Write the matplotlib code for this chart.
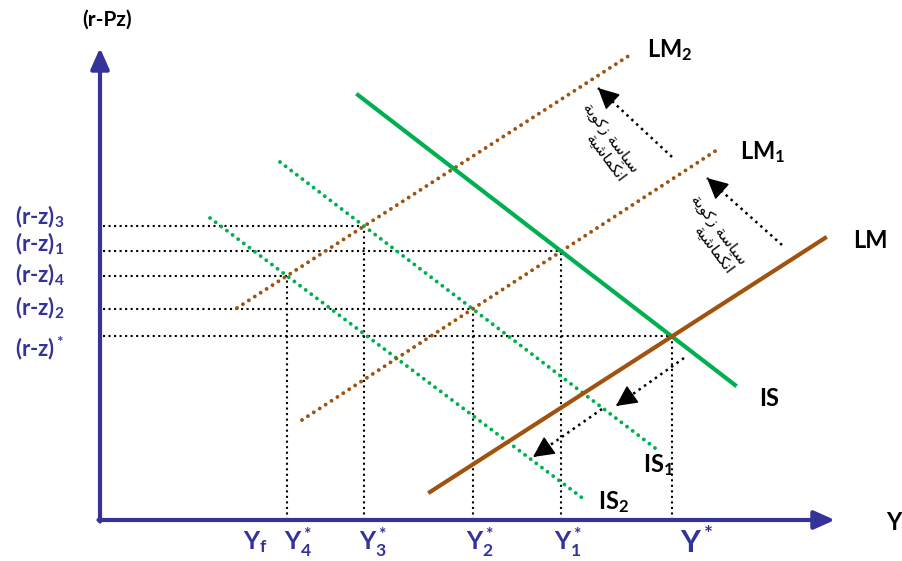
import numpy as np
import matplotlib
matplotlib.use("Agg")
import matplotlib.pyplot as plt

plt.rcParams['font.family'] = ['Lato', 'DejaVu Sans']
plt.rcParams['font.weight'] = 'bold'
plt.rcParams['mathtext.fontset'] = 'custom'
plt.rcParams['mathtext.rm'] = 'Lato:bold'
plt.rcParams['mathtext.it'] = 'Lato:bold'
plt.rcParams['mathtext.bf'] = 'Lato:bold'
plt.rcParams['mathtext.default'] = 'rm'

BLUE = '#333399'
GREEN = '#00B050'
BROWN = '#A0520F'

# curve end points (x0, y0, x1, y1), origin at the axes corner
IS = [258, 425, 635, 135]
IS1 = [180, 358, 555, 72]
IS2 = [110, 302, 485, 20]
LM = [330, 28, 725, 282]
LM1 = [202, 100, 620, 372]
LM2 = [137, 212, 530, 465]

# equilibria marked on the axes: (IS curve, LM curve)
equilibria = [(IS, LM), (IS, LM1), (IS1, LM1), (IS1, LM2), (IS2, LM2)]

# policy arrows (tail x, tail y, head x, head y)
arrows = [
    [572, 363, 498, 432],
    [682, 275, 607, 342],
    [584, 162, 516, 114],
    [502, 111, 433, 63],
]

y_labels = ['(r-z)$^*$', '(r-z)$_1$', '(r-z)$_2$', '(r-z)$_3$', '(r-z)$_4$']
y_label_pos = [172, 276, 212, 303, 245]
x_labels = ['Y$^*$', 'Y$^*_1$', 'Y$^*_2$', 'Y$^*_3$', 'Y$^*_4$', 'Y$_f$']
x_label_pos = [597, 468, 380, 273, 198, 155]

# arabic, written in presentation forms in visual order
policy_text = ('\ufe94\ufef3\ufeee\ufedb\ufeaf \ufe94\ufeb3\ufe8e\ufef4\ufeb3\n'
               '\ufe94\ufef4\ufeb7\ufe8e\ufee4\ufedc\ufee7\ufe8d')


def intersect(a, b):
    ma = (a[3] - a[1]) / (a[2] - a[0])
    mb = (b[3] - b[1]) / (b[2] - b[0])
    x = (b[1] - a[1] + ma * a[0] - mb * b[0]) / (ma - mb)
    return x, a[1] + ma * (x - a[0])


fig = plt.figure(figsize=(9.03, 5.61), dpi=100)
ax = fig.add_axes([0, 0, 1, 1])
ax.set_xlim(-100, 803)
ax.set_ylim(-41, 520)
ax.axis('off')

# guide lines to the axes
for s, d in equilibria:
    xe, ye = intersect(s, d)
    ax.plot([3, xe], [ye, ye], color='black', lw=1.5, ls=':', zorder=1)
    ax.plot([xe, xe], [0, ye], color='black', lw=1.5, ls=':', zorder=1)

dots = (0, (0.01, 1.8))
for c in [IS1, IS2]:
    ax.plot([c[0], c[2]], [c[1], c[3]], color=GREEN, lw=2.8, ls=dots,
            dash_capstyle='round', zorder=2)
for c in [LM1, LM2]:
    ax.plot([c[0], c[2]], [c[1], c[3]], color=BROWN, lw=2.8, ls=dots,
            dash_capstyle='round', zorder=2)
ax.plot([IS[0], IS[2]], [IS[1], IS[3]], color=GREEN, lw=3, zorder=3)
ax.plot([LM[0], LM[2]], [LM[1], LM[3]], color=BROWN, lw=3, zorder=3)

for a in arrows:
    ax.plot([a[0], a[2]], [a[1], a[3]], color='black', lw=1.8, ls=':', zorder=4)
    d = np.array([a[2] - a[0], a[3] - a[1]], dtype=float)
    d = d / np.hypot(*d)
    ax.annotate('', xy=(a[2], a[3]), xytext=(a[2] - 4 * d[0], a[3] - 4 * d[1]),
                arrowprops=dict(arrowstyle='-|>,head_length=1.1,head_width=0.55',
                                color='black', lw=1, shrinkA=0, shrinkB=0,
                                mutation_scale=12), zorder=5)

# axes
ax.annotate('', xy=(0, 472), xytext=(0, -1.5),
            arrowprops=dict(arrowstyle='-|>,head_length=0.9,head_width=0.4',
                            color=BLUE, lw=3, shrinkA=0, shrinkB=0,
                            mutation_scale=14))
ax.annotate('', xy=(735, 0), xytext=(-1.5, 0),
            arrowprops=dict(arrowstyle='-|>,head_length=0.9,head_width=0.4',
                            color=BLUE, lw=3, shrinkA=0, shrinkB=0,
                            mutation_scale=14))

for lab, y in zip(y_labels, y_label_pos):
    ax.text(-60, y, lab, color=BLUE, fontsize=16, ha='center', va='center')
for lab, x in zip(x_labels, x_label_pos):
    size = 22 if lab == 'Y$^*$' else 18
    ax.text(x, -22, lab, color=BLUE, fontsize=size, ha='center', va='center')

ax.text(7, 500, '(r-Pz)', fontsize=15, ha='center', va='center')
ax.text(786, -2, 'Y', fontsize=17, ha='left', va='center')
ax.text(547, 470, 'LM$_2$', fontsize=17, ha='left', va='center')
ax.text(640, 368, 'LM$_1$', fontsize=17, ha='left', va='center')
ax.text(753, 280, 'LM', fontsize=17, ha='left', va='center')
ax.text(659, 122, 'IS', fontsize=17, ha='left', va='center')
ax.text(543, 55, 'IS$_1$', fontsize=17, ha='left', va='center')
ax.text(498, 18, 'IS$_2$', fontsize=17, ha='left', va='center')

for cx, cy in [(504, 377), (612, 285)]:
    ax.text(cx, cy, policy_text, family=['DejaVu Sans'], fontweight='normal',
            fontsize=11, rotation=-53, rotation_mode='anchor',
            ha='center', va='center', multialignment='right', linespacing=1.1)

fig.savefig('out.png', dpi=100)
